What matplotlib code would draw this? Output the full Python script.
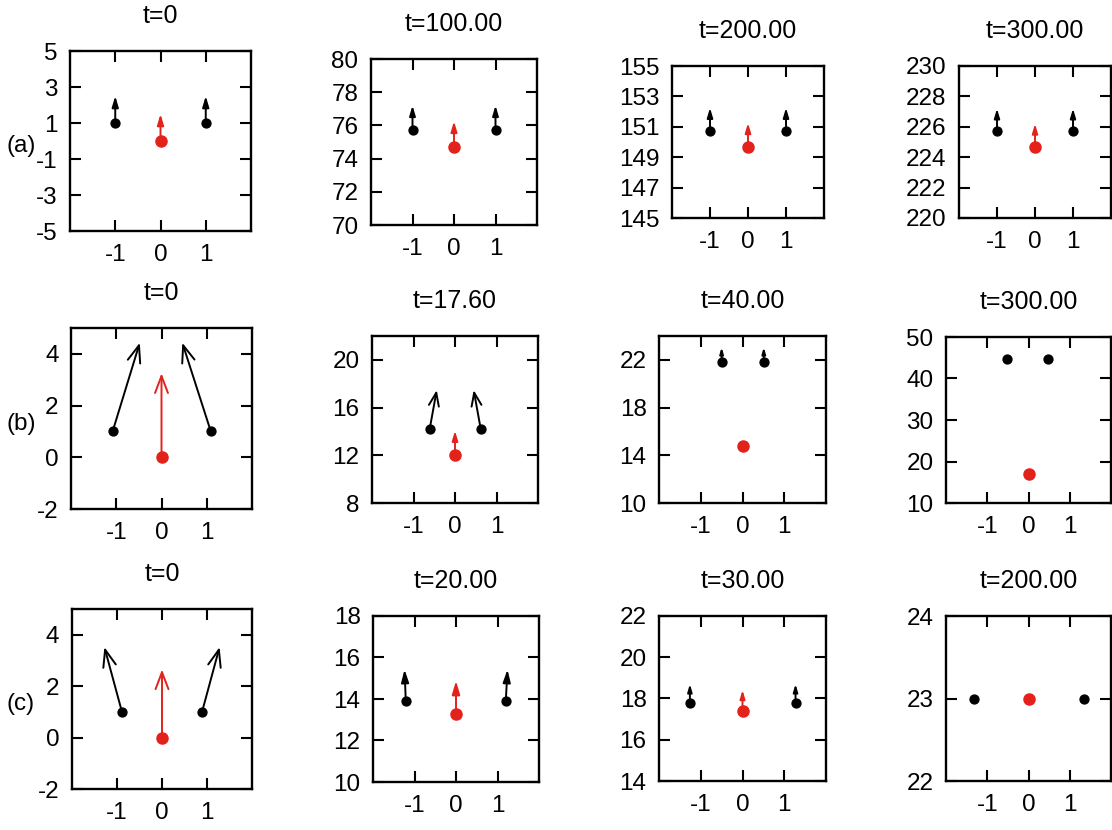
import numpy as np
import matplotlib
matplotlib.use('Agg')
import matplotlib.pyplot as plt

plt.rcParams['font.family'] = ['Liberation Sans', 'DejaVu Sans']
plt.rcParams['axes.unicode_minus'] = False

# panel order: row (a), row (b), row (c), four panels per row
row_labels = ['(a)', '(b)', '(c)']
titles = ['t=0', 't=100.00', 't=200.00', 't=300.00',
          't=0', 't=17.60', 't=40.00', 't=300.00',
          't=0', 't=20.00', 't=30.00', 't=200.00']
ylims = [(-5, 5), (70, 80), (145, 155), (220, 230),
         (-2, 5), (8, 22), (10, 24), (10, 50),
         (-2, 5), (10, 18), (14, 22), (22, 24)]
yticks = [[-5, -3, -1, 1, 3, 5], [70, 72, 74, 76, 78, 80],
          [145, 147, 149, 151, 153, 155], [220, 222, 224, 226, 228, 230],
          [-2, 0, 2, 4], [8, 12, 16, 20], [10, 14, 18, 22], [10, 20, 30, 40, 50],
          [-2, 0, 2, 4], [10, 12, 14, 16, 18], [14, 16, 18, 20, 22], [22, 23, 24]]
xticks = [-1, 0, 1]

# black particles: positions and velocity arrows
black_x = [[-1, 1], [-1, 1], [-1, 1], [-1, 1],
           [-1.08, 1.09], [-0.61, 0.62], [-0.50, 0.51], [-0.51, 0.48],
           [-0.89, 0.89], [-1.21, 1.20], [-1.26, 1.27], [-1.32, 1.34]]
black_y = [[1.0, 1.0], [75.7, 75.7], [150.7, 150.7], [225.7, 225.7],
           [1.0, 1.0], [14.2, 14.2], [21.8, 21.8], [44.8, 44.8],
           [1.0, 1.0], [13.9, 13.9], [17.8, 17.8], [23.0, 23.0]]
black_u = [[0, 0], [0, 0], [0, 0], [0, 0],
           [0.60, -0.63], [0.17, -0.17], [0, 0], [0, 0],
           [-0.39, 0.39], [-0.03, 0.04], [0, 0], [0, 0]]
black_v = [[1.5, 1.5], [1.5, 1.5], [1.55, 1.55], [1.5, 1.5],
           [3.43, 3.43], [3.27, 3.27], [1.25, 1.25], [0, 0],
           [2.52, 2.52], [1.52, 1.52], [0.9, 0.9], [0, 0]]

# red particle at x=0
red_y = [0, 74.7, 149.7, 224.7, 0, 12.06, 14.8, 17.1, 0, 13.27, 17.41, 23.0]
red_v = [1.5, 1.55, 1.55, 1.5, 3.25, 2.0, 0, 0, 2.65, 1.6, 1.0, 0]

RED = '#e3221c'

# axes boxes in pixels: left, top, right, bottom
boxes = [(70, 51, 251, 231), (371, 59, 537, 225), (672, 66, 824, 218), (959, 66, 1111, 218),
         (71, 328, 252, 509), (372, 336, 538, 503), (659, 336, 826, 503), (946, 337, 1111, 503),
         (72, 609, 252, 789), (373, 616, 539, 782), (659, 616, 826, 781), (946, 616, 1111, 781)]
label_y = [146, 424, 704]

W, H = 1112, 830
fig = plt.figure(figsize=(W / 100, H / 100), dpi=100)


def draw_arrow(ax, x, y, u, v, color):
    if u == 0 and v == 0:
        return
    p0 = ax.transData.transform((x, y))
    p1 = ax.transData.transform((x + u, y + v))
    length = np.hypot(*(p1 - p0))
    hl = min(17, length / 3) * 0.72
    if length < 36:
        style = f'-|>,head_length={hl},head_width={hl * 0.3}'
    else:
        style = f'->,head_length={hl},head_width={hl * 0.38}'
    ax.annotate('', xy=(x + u, y + v), xytext=(x, y),
                arrowprops=dict(arrowstyle=style, mutation_scale=1, color=color,
                                lw=1.4, shrinkA=0, shrinkB=0), zorder=3)


for i in range(12):
    x0, y0, x1, y1 = boxes[i]
    ax = fig.add_axes([x0 / W, 1 - y1 / H, (x1 - x0) / W, (y1 - y0) / H])
    ax.set_xlim(-2, 2)
    ax.set_ylim(ylims[i])
    ax.set_xticks(xticks)
    ax.set_yticks(yticks[i])
    ax.set_xticklabels([str(t) for t in xticks])
    ax.set_yticklabels([str(t) for t in yticks[i]])
    ax.tick_params(direction='in', length=8, width=1.5, top=True, right=True,
                   labelsize=17.5, pad=9)
    for s in ax.spines.values():
        s.set_linewidth(1.7)
    ax.set_title(titles[i], fontsize=18, pad=20)

    for j in range(2):
        draw_arrow(ax, black_x[i][j], black_y[i][j], black_u[i][j], black_v[i][j], 'black')
    draw_arrow(ax, 0, red_y[i], 0, red_v[i], RED)

    ax.plot(black_x[i], black_y[i], 'o', color='black', ms=6.4, zorder=4, clip_on=False)
    ax.plot([0], [red_y[i]], 'o', color=RED, ms=8, zorder=4, clip_on=False)

for r in range(3):
    fig.text(7 / W, 1 - label_y[r] / H, row_labels[r], fontsize=17.5, ha='left', va='center')

fig.savefig('out.png', dpi=100)
